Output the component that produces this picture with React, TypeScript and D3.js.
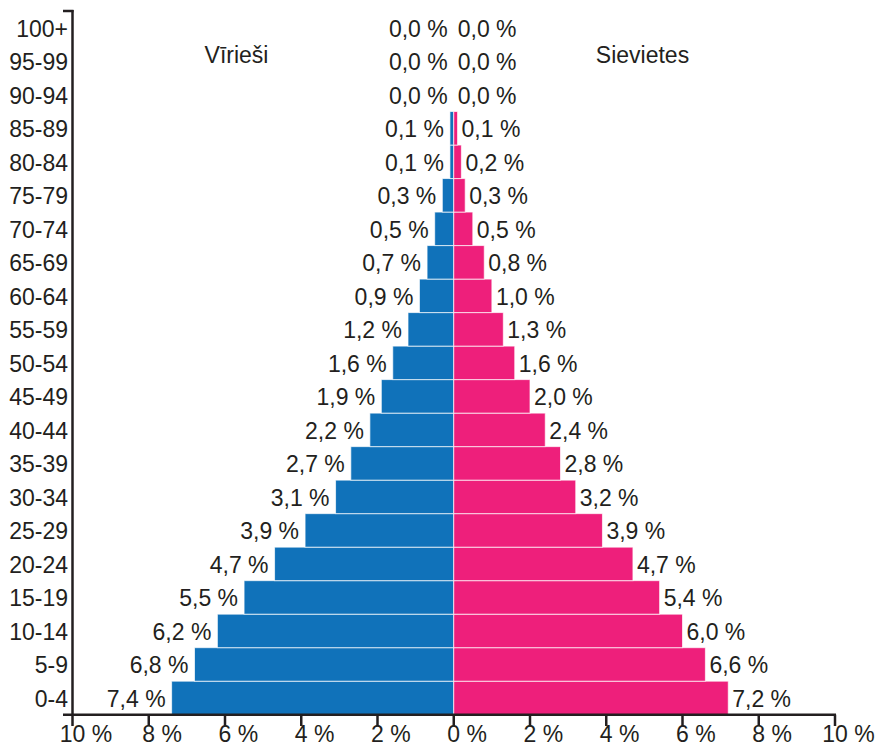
import React from "react";
import * as d3 from "d3";

const ageGroups = ["0-4","5-9","10-14","15-19","20-24","25-29","30-34","35-39","40-44","45-49","50-54","55-59","60-64","65-69","70-74","75-79","80-84","85-89","90-94","95-99","100+"];
const maleValues = [7.4,6.8,6.2,5.5,4.7,3.9,3.1,2.7,2.2,1.9,1.6,1.2,0.9,0.7,0.5,0.3,0.1,0.1,0.0,0.0,0.0];
const femaleValues = [7.2,6.6,6.0,5.4,4.7,3.9,3.2,2.8,2.4,2.0,1.6,1.3,1.0,0.8,0.5,0.3,0.2,0.1,0.0,0.0,0.0];
const tickValues = [-10,-8,-6,-4,-2,0,2,4,6,8,10];
const maleTitle = "Vīrieši";
const femaleTitle = "Sievietes";

const W = 876, H = 747;
const FS = 23;
const FONT = "'Liberation Sans', Arial, Helvetica, sans-serif";
const TEXT = "#231f20";
const BLUE = "#1072ba";
const PINK = "#ee1f7b";

const fmt = (v: number) => v.toFixed(1).replace(".", ",") + " %";

export default function App() {
  const x = d3.scaleLinear().domain([-10, 10]).range([72.5, 835]);
  const y = d3.scaleBand<string>().domain(ageGroups).range([714.7, 11]).paddingInner(0);
  const bw = y.bandwidth();
  const x0 = x(0);
  const axisLeft = x(-10);
  const axisBottom = 714.7;

  return (
    <svg width={W} height={H} style={{ position: "absolute", left: 0, top: 0, background: "#fff" }} fontFamily={FONT}>
      {ageGroups.map((g, i) => {
        const yy = y(g)!;
        const wm = x0 - x(-maleValues[i]);
        const wf = x(femaleValues[i]) - x0;
        return (
          <g key={g}>
            {wm > 0 && <rect x={x0 - wm} y={yy} width={wm} height={bw} fill={BLUE} stroke="#fff" strokeOpacity={0.7} strokeWidth={1} />}
            {wf > 0 && <rect x={x0} y={yy} width={wf} height={bw} fill={PINK} stroke="#fff" strokeOpacity={0.7} strokeWidth={1} />}
          </g>
        );
      })}
      {ageGroups.map((g, i) => {
        const cy = y(g)! + bw / 2 + 9;
        return (
          <g key={"l" + g} fontSize={FS} fill={TEXT}>
            <text x={x(-maleValues[i]) - 6} y={cy} textAnchor="end">{fmt(maleValues[i])}</text>
            <text x={x(femaleValues[i]) + 4} y={cy} textAnchor="start">{fmt(femaleValues[i])}</text>
          </g>
        );
      })}
      {ageGroups.map((g) => (
        <text key={"a" + g} x={68} y={y(g)! + bw / 2 + 9} textAnchor="end" fontSize={FS} fill={TEXT}>{g}</text>
      ))}
      <line x1={axisLeft} x2={axisLeft} y1={10} y2={axisBottom + 1} stroke={TEXT} strokeWidth={2.5} />
      <line x1={63} x2={axisLeft + 1} y1={11} y2={11} stroke={TEXT} strokeWidth={2.5} />
      <line x1={63} x2={x(10) + 1} y1={axisBottom} y2={axisBottom} stroke={TEXT} strokeWidth={2.5} />
      {tickValues.map((t) => {
        const tx = x(t);
        const num = String(Math.abs(t));
        const half = (num.length * 0.556 * FS) / 2;
        return (
          <g key={"t" + t}>
            <line x1={tx} x2={tx} y1={axisBottom} y2={726} stroke={TEXT} strokeWidth={2.5} />
            <text x={tx} y={742} textAnchor="middle" fontSize={FS} fill={TEXT}>{num}</text>
            <text x={tx + half + 0.278 * FS} y={742} textAnchor="start" fontSize={FS} fill={TEXT}>%</text>
          </g>
        );
      })}
      <text x={236.5} y={63} textAnchor="middle" fontSize={FS} fill={TEXT}>{maleTitle}</text>
      <text x={642.5} y={63} textAnchor="middle" fontSize={FS} fill={TEXT}>{femaleTitle}</text>
    </svg>
  );
}
